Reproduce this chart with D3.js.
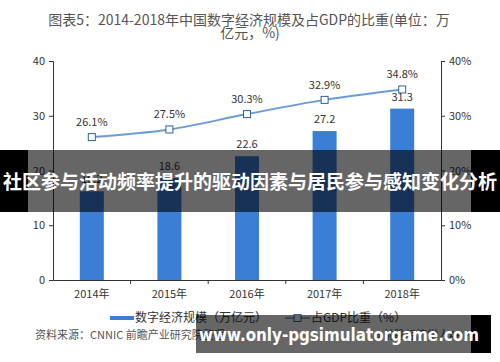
<!DOCTYPE html>
<html>
<head>
<meta charset="utf-8">
<script src="https://cdn.jsdelivr.net/npm/d3@7"></script>
<style>
  body { margin: 0; background: #fff; }
  svg { display: block; font-family: "Noto Sans CJK SC", "Noto Sans", sans-serif; }
</style>
</head>
<body>
<div id="vis"></div>
<script>
// data
var years = ['2014年', '2015年', '2016年', '2017年', '2018年'];
var scaleValues = [16.2, 18.6, 22.6, 27.2, 31.3];   // 数字经济规模（万亿元）
var gdpShare = [26.1, 27.5, 30.3, 32.9, 34.8];      // 占GDP比重（%）
var leftTicks = [0, 10, 20, 30, 40];
var rightTicks = [0, 10, 20, 30, 40];
var legendLabels = ['数字经济规模（万亿元）', '占GDP比重（%）'];

var width = 500, height = 362;
var plot = { left: 53, right: 441, top: 61, bottom: 280 };
var barColor = '#3a7ed6';
var lineColor = '#6a9bd6';
var axisColor = '#333';

var svg = d3.select('#vis').append('svg')
    .attr('width', width)
    .attr('height', height);

svg.append('rect').attr('width', width).attr('height', height).attr('fill', '#fff');

// title
var title = svg.append('text')
    .attr('text-anchor', 'middle')
    .attr('fill', '#555')
    .style('font-size', '14px');
title.append('tspan').attr('x', 249).attr('y', 25).text('图表5：2014-2018年中国数字经济规模及占GDP的比重(单位：万');
title.append('tspan').attr('x', 250).attr('y', 38).text('亿元，%)');

// scales
var x = d3.scaleBand().domain(years).range([plot.left, plot.right]).padding(0);
var yL = d3.scaleLinear().domain([0, 40]).range([plot.bottom, plot.top]);
var yR = d3.scaleLinear().domain([0, 40]).range([plot.bottom, plot.top]);
var barW = 24;

// axes
var gL = svg.append('g')
    .attr('transform', 'translate(' + plot.left + ',0)')
    .call(d3.axisLeft(yL).tickValues(leftTicks).tickSize(4).tickPadding(4));
var gR = svg.append('g')
    .attr('transform', 'translate(' + plot.right + ',0)')
    .call(d3.axisRight(yR).tickValues(rightTicks).tickSize(4).tickPadding(4)
      .tickFormat(function (d) { return d + '%'; }));
var gX = svg.append('g')
    .attr('transform', 'translate(0,' + plot.bottom + ')')
    .call(d3.axisBottom(x).tickSize(0).tickPadding(10));

[gL, gR, gX].forEach(function (g) {
  g.select('.domain').attr('stroke', axisColor);
  g.selectAll('.tick line').attr('stroke', axisColor);
  g.selectAll('text').attr('fill', '#333').style('font-size', '11px')
    .style('font-family', '"Noto Sans CJK SC", sans-serif');
});
// ticks on x axis at section boundaries
svg.append('g').selectAll('line')
    .data(years.slice(1))
    .enter().append('line')
    .attr('x1', function (d) { return x(d); })
    .attr('x2', function (d) { return x(d); })
    .attr('y1', plot.bottom)
    .attr('y2', plot.bottom + 4)
    .attr('stroke', axisColor);

// bars
svg.append('g').selectAll('rect')
    .data(scaleValues)
    .enter().append('rect')
    .attr('x', function (d, i) { return x(years[i]) + x.bandwidth() / 2 - barW / 2; })
    .attr('y', function (d) { return yL(d); })
    .attr('width', barW)
    .attr('height', function (d) { return plot.bottom - yL(d); })
    .attr('fill', barColor);

svg.append('g').selectAll('text')
    .data(scaleValues)
    .enter().append('text')
    .attr('x', function (d, i) { return x(years[i]) + x.bandwidth() / 2; })
    .attr('y', function (d) { return yL(d) - 8; })
    .attr('text-anchor', 'middle')
    .attr('fill', '#333')
    .style('font-size', '11px')
    .text(function (d) { return d.toFixed(1); });

// line
var line = d3.line()
    .x(function (d, i) { return x(years[i]) + x.bandwidth() / 2; })
    .y(function (d) { return yR(d); })
    .curve(d3.curveMonotoneX);

svg.append('path')
    .datum(gdpShare)
    .attr('d', line)
    .attr('fill', 'none')
    .attr('stroke', lineColor)
    .attr('stroke-width', 2);

svg.append('g').selectAll('rect')
    .data(gdpShare)
    .enter().append('rect')
    .attr('x', function (d, i) { return x(years[i]) + x.bandwidth() / 2 - 3.5; })
    .attr('y', function (d) { return yR(d) - 3.5; })
    .attr('width', 7)
    .attr('height', 7)
    .attr('fill', '#fff')
    .attr('stroke', '#2f5f9a')
    .attr('stroke-width', 1);

svg.append('g').selectAll('text')
    .data(gdpShare)
    .enter().append('text')
    .attr('x', function (d, i) { return x(years[i]) + x.bandwidth() / 2; })
    .attr('y', function (d) { return yR(d) - 11; })
    .attr('text-anchor', 'middle')
    .attr('fill', '#333')
    .style('font-size', '11px')
    .text(function (d) { return d.toFixed(1) + '%'; });

// legend
var lg = svg.append('g').style('font-size', '12px').attr('fill', '#333');
lg.append('rect').attr('x', 110).attr('y', 316).attr('width', 24).attr('height', 4).attr('fill', barColor);
lg.append('text').attr('x', 135).attr('y', 322).text(legendLabels[0]);
lg.append('line').attr('x1', 285).attr('x2', 310).attr('y1', 318).attr('y2', 318)
    .attr('stroke', lineColor).attr('stroke-width', 1.5);
lg.append('rect').attr('x', 294).attr('y', 314.5).attr('width', 7).attr('height', 7)
    .attr('fill', '#fff').attr('stroke', '#2f5f9a');
lg.append('text').attr('x', 311).attr('y', 322).text(legendLabels[1]);

// source
svg.append('text').attr('x', 35).attr('y', 339).attr('fill', '#555')
    .style('font-size', '11px').text('资料来源：CNNIC 前瞻产业研究院整理');
svg.append('text').attr('x', 470).attr('y', 339).attr('fill', '#555')
    .attr('text-anchor', 'end')
    .style('font-size', '11px').text('@前瞻经济学人APP');

// overlay banner
svg.append('rect').attr('x', 0).attr('y', 150).attr('width', 28).attr('height', 62).attr('fill', '#000');
svg.append('rect').attr('x', 471).attr('y', 150).attr('width', 29).attr('height', 62).attr('fill', '#000');
svg.append('rect').attr('x', 28).attr('y', 150).attr('width', 443).attr('height', 62)
    .attr('fill', '#000').attr('fill-opacity', 0.6);
svg.append('text').attr('x', 250).attr('y', 189)
    .attr('text-anchor', 'middle')
    .attr('fill', '#fff')
    .style('font-size', '19px')
    .style('font-weight', 'bold')
    .attr('textLength', 494)
    .attr('lengthAdjust', 'spacingAndGlyphs')
    .text('社区参与活动频率提升的驱动因素与居民参与感知变化分析');

// bottom watermark
svg.append('rect').attr('x', 196).attr('y', 315).attr('width', 275).attr('height', 38)
    .attr('fill', '#000').attr('fill-opacity', 0.6);
svg.append('rect').attr('x', 471).attr('y', 315).attr('width', 20).attr('height', 38).attr('fill', '#000');
svg.append('text').attr('x', 199).attr('y', 341)
    .attr('fill', '#fff')
    .style('font-family', '"DejaVu Sans", sans-serif')
    .style('font-size', '18px')
    .style('font-weight', 'bold')
    .attr('textLength', 280)
    .attr('lengthAdjust', 'spacingAndGlyphs')
    .text('www.only-pgsimulatorgame.com');
</script>
</body>
</html>
